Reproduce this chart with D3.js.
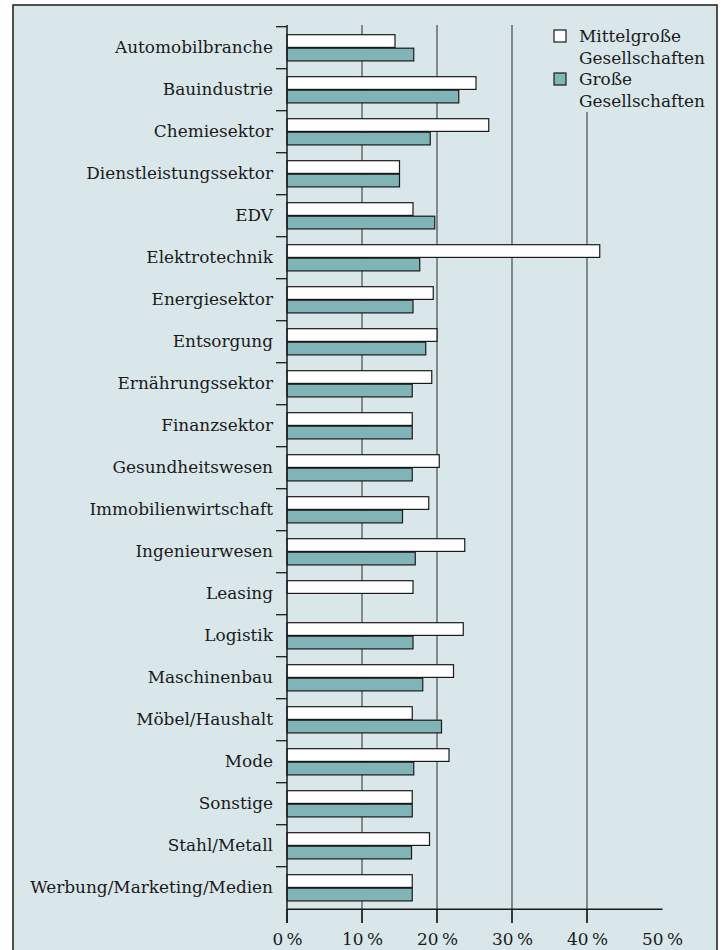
<!DOCTYPE html>
<html>
<head>
<meta charset="utf-8">
<script src="https://cdn.jsdelivr.net/npm/d3@7"></script>
<style>
  body { margin: 0; background: #fff; }
  svg { display: block; }
  text { font-family: "DejaVu Serif", serif; fill: #1a1a1a; }
</style>
</head>
<body>
<svg></svg>
<script>
// Branchen
var categories = ["Automobilbranche", "Bauindustrie", "Chemiesektor", "Dienstleistungssektor",
    "EDV", "Elektrotechnik", "Energiesektor", "Entsorgung", "Ernährungssektor", "Finanzsektor",
    "Gesundheitswesen", "Immobilienwirtschaft", "Ingenieurwesen", "Leasing", "Logistik",
    "Maschinenbau", "Möbel/Haushalt", "Mode", "Sonstige", "Stahl/Metall",
    "Werbung/Marketing/Medien"];

// Werte in %
var mittelgross = [14.4, 25.2, 26.9, 15.0, 16.8, 41.7, 19.5, 20.0, 19.3, 16.7, 20.3,
    18.9, 23.7, 16.8, 23.5, 22.2, 16.7, 21.6, 16.7, 19.0, 16.7];
var gross = [16.9, 22.9, 19.1, 15.0, 19.7, 17.7, 16.8, 18.5, 16.7, 16.7, 16.7,
    15.4, 17.1, 0, 16.8, 18.1, 20.6, 16.9, 16.7, 16.6, 16.7];

var seriesNames = ["Mittelgroße Gesellschaften", "Große Gesellschaften"];
var xTicks = [0, 10, 20, 30, 40, 50];

var W = 725, H = 950;
var bg = "#d9e6ea", teal = "#80b4b7", ink = "#1a1a1a", grid = "#555";
var fontSize = "16.9px";

var svg = d3.select("svg").attr("width", W).attr("height", H);

svg.append("rect").attr("width", W).attr("height", H).attr("fill", "#fff");
svg.append("rect")
    .attr("x", 13).attr("y", 5)
    .attr("width", 704).attr("height", H + 20)
    .attr("fill", bg)
    .attr("stroke", ink)
    .attr("stroke-width", 1.5);

var x = d3.scaleLinear().domain([0, 50]).range([287, 662]);
var y = d3.scaleBand().domain(categories).range([26.7, 908.7]);

var data = categories.map(function(c, i) {
    return {cat: c, vals: [mittelgross[i], gross[i]]};
});

// Gitterlinien
svg.append("g").selectAll("line")
    .data(xTicks.filter(function(d) { return d > 0 && d < 50; }))
    .enter().append("line")
    .attr("x1", function(d) { return x(d); })
    .attr("x2", function(d) { return x(d); })
    .attr("y1", 25).attr("y2", 923)
    .attr("stroke", grid).attr("stroke-width", 1.3);

// Legendenhintergrund verdeckt die Gitterlinie
svg.append("rect")
    .attr("x", 545).attr("y", 20).attr("width", 168).attr("height", 92)
    .attr("fill", bg);

// Balken
var barH = 12.7;
var rows = svg.append("g").selectAll("g")
    .data(data)
    .enter().append("g")
    .attr("transform", function(d) {
        return "translate(0," + (y(d.cat) + y.bandwidth() / 2) + ")";
    });

rows.selectAll("rect")
    .data(function(d) { return d.vals; })
    .enter().filter(function(v) { return v > 0; })
    .append("rect")
    .attr("x", x(0))
    .attr("y", function(v, i) { return i === 0 ? -barH - 0.3 : 0.5; })
    .attr("width", function(v) { return x(v) - x(0); })
    .attr("height", barH)
    .attr("fill", function(v, i) { return i === 0 ? "#fff" : teal; })
    .attr("stroke", ink)
    .attr("stroke-width", 1.2);

// y-Achse
var yAxis = d3.axisLeft(y).tickSize(0).tickPadding(14);
var gy = svg.append("g")
    .attr("transform", "translate(" + x(0) + ",0)")
    .call(yAxis);
gy.select(".domain").remove();
gy.selectAll("text")
    .style("font-size", fontSize)
    .style("font-family", "DejaVu Serif, serif")
    .attr("fill", ink);

// Trennstriche zwischen Kategorien
var bounds = categories.map(function(c) { return y(c); });
svg.append("g").selectAll("line")
    .data(bounds)
    .enter().append("line")
    .attr("x1", x(0) - 11).attr("x2", x(0))
    .attr("y1", function(d) { return d; })
    .attr("y2", function(d) { return d; })
    .attr("stroke", ink).attr("stroke-width", 1.3);

svg.append("line")
    .attr("x1", x(0)).attr("x2", x(0))
    .attr("y1", 25).attr("y2", 923)
    .attr("stroke", ink).attr("stroke-width", 1.5);

// x-Achse
var xAxis = d3.axisBottom(x)
    .tickValues(xTicks)
    .tickSize(0)
    .tickPadding(24)
    .tickFormat(function(d) { return d + "\u2009%"; });
var gx = svg.append("g")
    .attr("transform", "translate(0," + y.range()[1] + ")")
    .call(xAxis);
gx.select(".domain").attr("stroke", ink).attr("stroke-width", 1.5);
gx.selectAll("text")
    .style("font-size", fontSize)
    .style("font-family", "DejaVu Serif, serif")
    .attr("fill", ink);

svg.append("g").selectAll("line")
    .data(xTicks.filter(function(d) { return d < 50; }))
    .enter().append("line")
    .attr("x1", function(d) { return x(d); })
    .attr("x2", function(d) { return x(d); })
    .attr("y1", y.range()[1]).attr("y2", 923)
    .attr("stroke", ink).attr("stroke-width", 1.5);

// Legende
var legend = svg.append("g").attr("transform", "translate(554,0)");
var legendRows = [
    {lines: ["Mittelgroße", "Gesellschaften"], fill: "#fff", y: 30},
    {lines: ["Große", "Gesellschaften"], fill: teal, y: 73}
];
legendRows.forEach(function(r) {
    legend.append("rect")
        .attr("x", 0).attr("y", r.y)
        .attr("width", 12).attr("height", 12)
        .attr("fill", r.fill)
        .attr("stroke", ink).attr("stroke-width", 1.2);
    r.lines.forEach(function(t, j) {
        legend.append("text")
            .attr("x", 25)
            .attr("y", r.y + 12 + j * 21.5)
            .style("font-size", fontSize)
            .text(t);
    });
});
</script>
</body>
</html>
